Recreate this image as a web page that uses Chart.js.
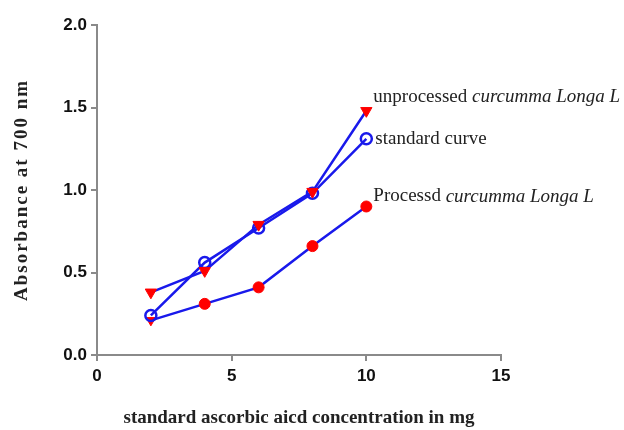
<!DOCTYPE html>
<html>
<head>
<meta charset="utf-8">
<script src="https://cdn.jsdelivr.net/npm/chart.js@4.4.0/dist/chart.umd.min.js"></script>
<style>
    body { margin: 0; background: #fff; }
    #box { width: 624px; height: 430px; }
</style>
</head>
<body>
<div id="box"><canvas id="chart1" width="624" height="430"></canvas></div>
<script>
// Dados
const concentrations = [2, 4, 6, 8, 10];
const unprocessed = [0.38, 0.51, 0.79, 0.99, 1.48];
const standardCurve = [0.24, 0.56, 0.77, 0.98, 1.31];
const processed = [0.21, 0.31, 0.41, 0.66, 0.90];

// Ticks dos eixos
const xTicks = [0, 5, 10, 15];
const yTicks = [0, 0.5, 1.0, 1.5, 2.0];

// Rótulos no fim de cada curva: [texto normal, texto itálico]
const endLabels = [
    ['unprocessed ', 'curcumma Longa L'],
    ['standard curve', ''],
    ['Processd ', 'curcumma Longa L']
];
const yTitle = 'Absorbance at 700 nm';

const blue = 'rgb(25, 25, 235)';
const red = '#ff0000';
const axisGray = '#8a8a8a';
const serif = '"Liberation Serif", "DejaVu Serif", serif';

function points(values) {
    return concentrations.map((x, i) => ({ x: x, y: values[i] }));
}

// Plugin para escrever os rótulos ao lado do último ponto + título do eixo y
const labelPlugin = {
    id: 'endLabels',
    afterDatasetsDraw(chart) {
        const ctx = chart.ctx;
        const shifts = [[7, -14], [9, 0], [7, -10]];
        ctx.save();
        ctx.fillStyle = '#222';
        ctx.textBaseline = 'middle';
        endLabels.forEach(function (label, i) {
            const meta = chart.getDatasetMeta(i);
            const last = meta.data[meta.data.length - 1];
            let x = last.x + shifts[i][0];
            const y = last.y + shifts[i][1];
            ctx.font = '19px ' + serif;
            ctx.fillText(label[0], x, y);
            x += ctx.measureText(label[0]).width;
            ctx.font = 'italic 19px ' + serif;
            ctx.fillText(label[1], x, y);
        });
        ctx.restore();

        // título vertical (mais espaçado que o normal)
        const area = chart.chartArea;
        ctx.save();
        ctx.translate(22, (area.top + area.bottom) / 2);
        ctx.rotate(-Math.PI / 2);
        ctx.font = 'bold 19px ' + serif;
        ctx.letterSpacing = '2px';
        ctx.fillStyle = '#222';
        ctx.textAlign = 'center';
        ctx.textBaseline = 'middle';
        ctx.fillText(yTitle, 0, 0);
        ctx.restore();
    }
};

new Chart(document.getElementById('chart1'), {
    type: 'line',
    data: {
        datasets: [{
            label: 'unprocessed curcumma Longa L',
            data: points(unprocessed),
            borderColor: blue,
            borderWidth: 2.5,
            pointStyle: 'triangle',
            rotation: 180,
            pointRadius: 6.5,
            pointBackgroundColor: red,
            pointBorderColor: red,
            pointBorderWidth: 1
        }, {
            label: 'standard curve',
            data: points(standardCurve),
            borderColor: blue,
            borderWidth: 2.5,
            pointStyle: 'circle',
            pointRadius: 5.5,
            pointBackgroundColor: 'rgba(255,255,255,0)',
            pointBorderColor: blue,
            pointBorderWidth: 2.5
        }, {
            label: 'Processd curcumma Longa L',
            data: points(processed),
            borderColor: blue,
            borderWidth: 2.5,
            // o primeiro ponto aparece como triângulo na figura
            pointStyle: ['triangle', 'circle', 'circle', 'circle', 'circle'],
            rotation: 180,
            pointRadius: 5.5,
            pointBackgroundColor: red,
            pointBorderColor: red,
            pointBorderWidth: 1
        }]
    },
    options: {
        responsive: false,
        animation: false,
        layout: { padding: { left: 0, top: 25, right: 123, bottom: 0 } },
        plugins: {
            legend: { display: false },
            tooltip: { enabled: false }
        },
        scales: {
            x: {
                type: 'linear',
                min: 0,
                max: 15,
                afterBuildTicks: function (scale) {
                    scale.ticks = xTicks.map(v => ({ value: v }));
                },
                afterFit: function (scale) { scale.height = 75; },
                grid: { drawOnChartArea: false, color: axisGray, lineWidth: 2, tickLength: 6 },
                border: { color: axisGray, width: 2 },
                ticks: {
                    color: '#111',
                    padding: 5,
                    font: { family: '"Liberation Sans", Arial, sans-serif', size: 17, weight: 'bold' },
                    callback: v => String(v)
                },
                title: {
                    display: true,
                    text: 'standard ascorbic aicd concentration in mg',
                    color: '#222',
                    padding: { top: 4, bottom: 1 },
                    font: { family: serif, size: 19, weight: 'bold' }
                }
            },
            y: {
                min: 0,
                max: 2,
                afterBuildTicks: function (scale) {
                    scale.ticks = yTicks.map(v => ({ value: v }));
                },
                afterFit: function (scale) { scale.width = 97; },
                grid: { drawOnChartArea: false, color: axisGray, lineWidth: 2, tickLength: 6 },
                border: { color: axisGray, width: 2 },
                ticks: {
                    color: '#111',
                    padding: 4,
                    font: { family: '"Liberation Sans", Arial, sans-serif', size: 17, weight: 'bold' },
                    callback: v => v.toFixed(1)
                },
                title: { display: false }
            }
        }
    },
    plugins: [labelPlugin]
});
</script>
</body>
</html>
